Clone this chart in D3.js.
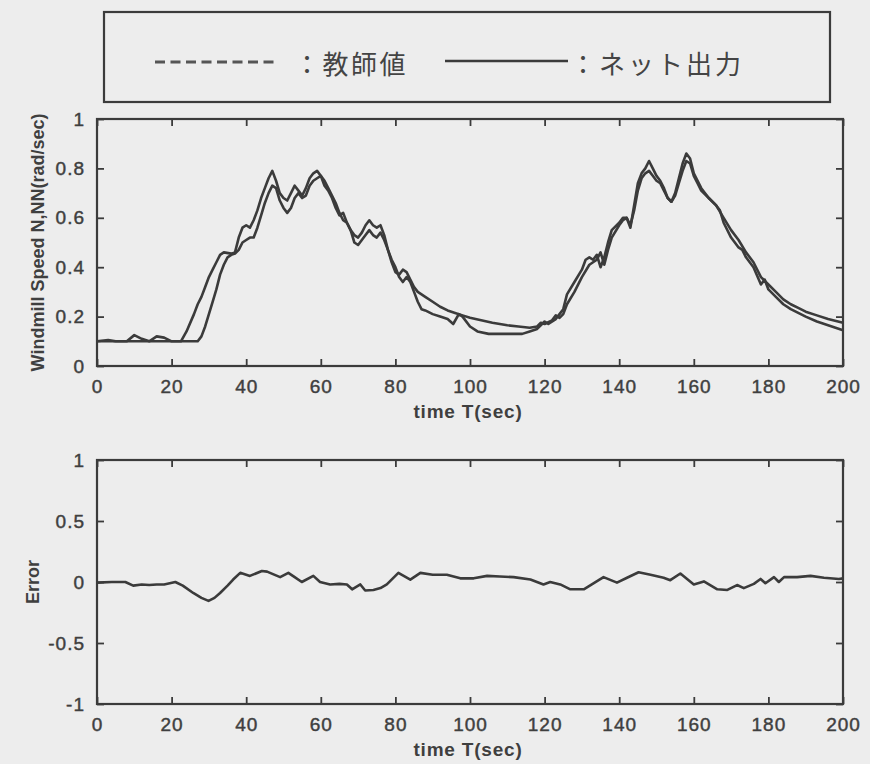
<!DOCTYPE html>
<html><head><meta charset="utf-8">
<script src="https://cdn.jsdelivr.net/npm/d3@7"></script>
<style>
html,body{margin:0;padding:0;background:#ededed;}
svg{display:block;}
</style></head>
<body>
<svg id="chart" width="870" height="764"></svg>
<script>
// ---------- data ----------
const xTicks = [0,20,40,60,80,100,120,140,160,180,200];
const speedTicks = [0,0.2,0.4,0.6,0.8,1];
const errorTicks = [-1,-0.5,0,0.5,1];
const legendLabels = ["：教師値", "：ネット出力"];
const xLabel = "time T(sec)";
const speedLabel = "Windmill Speed N,NN(rad/sec)";
const errorLabel = "Error";

// network output (earlier riser)
const netT = [0,3,5,8,10,12,14,16,18,20,22.5,24,26,27,28,29,30,31,32,33,34,36,37,38,39,40,41,42,43,44,45,46,47,48,49,50,51,52,53,54,55,56,57,58,59,60,61,62,63,64,65,66,67,68,69,70,71,72,73,74,75,76,77,78,79,80,81,82,83,84,85,86,87,88,90,92,94,95.5,97,98,100,102,105,110,114,116,118,120,121,123,124,125,126,128,130,131,132,133,134,135,136,137,138,140,141,142,143,144,145,146,147,148,149,150,151,152,153,154,155,156,157,158,159,160,162,164,166,167,168,170,172,173,174,176,178,179,180,182,184,186,188,190,193,196,200];
const netV = [0.10,0.105,0.10,0.10,0.125,0.11,0.10,0.12,0.115,0.10,0.10,0.14,0.21,0.25,0.28,0.32,0.36,0.39,0.42,0.45,0.46,0.455,0.46,0.52,0.56,0.57,0.56,0.59,0.63,0.68,0.72,0.76,0.79,0.75,0.70,0.68,0.67,0.70,0.73,0.71,0.69,0.72,0.76,0.78,0.79,0.77,0.73,0.71,0.68,0.64,0.61,0.62,0.58,0.55,0.53,0.52,0.54,0.57,0.59,0.57,0.56,0.57,0.53,0.47,0.43,0.40,0.36,0.34,0.36,0.34,0.30,0.26,0.23,0.225,0.21,0.20,0.19,0.17,0.21,0.20,0.16,0.14,0.13,0.13,0.13,0.14,0.15,0.18,0.17,0.19,0.21,0.23,0.29,0.34,0.39,0.43,0.44,0.43,0.45,0.40,0.44,0.50,0.55,0.58,0.60,0.60,0.56,0.65,0.74,0.78,0.80,0.83,0.80,0.77,0.75,0.72,0.68,0.665,0.70,0.76,0.82,0.86,0.84,0.78,0.72,0.68,0.65,0.63,0.58,0.52,0.48,0.47,0.44,0.40,0.33,0.35,0.31,0.28,0.25,0.23,0.215,0.20,0.18,0.165,0.145];

// teacher values (later riser)
const teachT = [0,27,28,29,30,31,32,33,34,35,36,37,38,39,40,41,42,43,44,45,46,47,48,49,50,51,52,53,54,55,56,57,58,59,60,61,62,63,64,65,66,67,68,69,70,71,72,73,74,75,76,77,78,79,80,81,82,83,84,85,86,88,90,92,94,96,98,100,103,106,110,113,116,118,119,120,122,123,124,125,126,128,130,132,133,134,135,136,137,138,140,141,142,143,144,145,146,147,148,149,150,151,152,153,154,155,156,157,158,159,160,161,162,164,166,168,170,172,174,176,178,180,182,184,186,188,190,193,196,200];
const teachV = [0.10,0.10,0.12,0.16,0.21,0.26,0.31,0.37,0.41,0.44,0.45,0.455,0.47,0.50,0.51,0.52,0.52,0.56,0.61,0.66,0.70,0.73,0.72,0.67,0.64,0.62,0.64,0.68,0.70,0.68,0.69,0.73,0.75,0.76,0.77,0.75,0.72,0.69,0.66,0.62,0.59,0.58,0.55,0.50,0.49,0.51,0.53,0.55,0.53,0.52,0.54,0.51,0.47,0.42,0.38,0.37,0.39,0.38,0.35,0.32,0.30,0.28,0.26,0.24,0.225,0.215,0.205,0.195,0.185,0.175,0.165,0.16,0.155,0.16,0.175,0.17,0.185,0.205,0.195,0.21,0.25,0.30,0.36,0.41,0.42,0.43,0.46,0.41,0.47,0.52,0.57,0.59,0.60,0.57,0.63,0.71,0.76,0.78,0.79,0.77,0.75,0.74,0.71,0.68,0.665,0.69,0.74,0.79,0.83,0.82,0.77,0.74,0.71,0.68,0.65,0.60,0.55,0.51,0.46,0.42,0.36,0.33,0.30,0.27,0.25,0.235,0.22,0.205,0.19,0.175];

// error
const errT = [0,4,7.6,9.7,12,14,16,18,21,23,25.8,28,29.9,31.5,33,35,36.5,38.4,41,44.2,45.6,47.5,49.1,51.3,53,54.9,58,59.8,62.5,65,67,68.4,70.6,71.9,74.1,76,77.7,80.8,84,86.7,90,93.8,97.4,101,104.6,108,111.7,116.2,119.7,121.5,124.2,126.9,130.5,133.2,135.8,139.4,142.1,145.2,148.4,151.9,153.7,156.4,160,162.7,166.3,169,171.6,173.4,176.1,177.9,179.2,181.5,182.8,184.2,187.7,191.3,194.9,198.9,200];
const errV = [-0.005,0.0,0.0,-0.03,-0.02,-0.025,-0.02,-0.02,0.0,-0.03,-0.09,-0.13,-0.155,-0.13,-0.09,-0.03,0.02,0.075,0.05,0.09,0.085,0.06,0.04,0.075,0.04,0.0,0.05,0.0,-0.02,-0.015,-0.02,-0.06,-0.02,-0.07,-0.065,-0.05,-0.02,0.075,0.02,0.075,0.06,0.06,0.03,0.03,0.05,0.045,0.04,0.02,-0.02,0.0,-0.02,-0.06,-0.06,-0.01,0.04,-0.005,0.035,0.08,0.06,0.035,0.015,0.07,-0.02,0.005,-0.06,-0.065,-0.025,-0.05,-0.015,0.025,-0.01,0.04,0.0,0.04,0.04,0.05,0.035,0.025,0.03];

// ---------- drawing ----------
const svg = d3.select("#chart");
const ink = "#3b3b3b";
const fontLatin = "'Liberation Sans', Arial, sans-serif";
const fontCJK = "'Noto Sans CJK JP', sans-serif";

const X0 = 97, X1 = 843;
const x = d3.scaleLinear().domain([0,200]).range([X0, X1]);

function panel(y, yTicks, yFmt, yTitle, titleX) {
  const [yb, yt] = y.range();
  const g = svg.append("g");
  const tickLen = 7;
  const axB = d3.axisBottom(x).tickValues(xTicks).tickSizeInner(-tickLen).tickSizeOuter(0).tickPadding(14).tickFormat(d3.format("d"));
  const axT = d3.axisTop(x).tickValues(xTicks).tickSizeInner(-tickLen).tickSizeOuter(0).tickFormat("");
  const axL = d3.axisLeft(y).tickValues(yTicks).tickSizeInner(-tickLen).tickSizeOuter(0).tickPadding(12).tickFormat(yFmt);
  const axR = d3.axisRight(y).tickValues(yTicks).tickSizeInner(-tickLen).tickSizeOuter(0).tickFormat("");
  const gb = g.append("g").attr("transform", `translate(0,${yb})`).call(axB);
  const gt = g.append("g").attr("transform", `translate(0,${yt})`).call(axT);
  const gl = g.append("g").attr("transform", `translate(${X0},0)`).call(axL);
  const gr = g.append("g").attr("transform", `translate(${X1},0)`).call(axR);
  [gb,gt,gl,gr].forEach(a => {
    a.select(".domain").remove();
    a.selectAll(".tick line").attr("stroke", ink).attr("stroke-width", 1.8);
    a.selectAll(".tick text").attr("fill", "#3f3f3f").attr("stroke", "#3f3f3f").attr("stroke-width", 0.45)
      .style("font-family", fontLatin).style("font-size", "19px").style("letter-spacing", "1px");
  });
  g.append("rect").attr("x", X0).attr("y", yt).attr("width", X1 - X0).attr("height", yb - yt)
    .attr("fill", "none").attr("stroke", ink).attr("stroke-width", 2.2);
  g.append("text").attr("x", (X0 + X1) / 2 - 2).attr("y", yb + 52)
    .attr("text-anchor", "middle").attr("fill", "#3f3f3f")
    .style("font-family", fontLatin).style("font-size", "19px").style("font-weight", "bold").style("letter-spacing", "0.8px")
    .text(xLabel);
  g.append("text").attr("transform", `translate(${titleX},${(yb + yt) / 2}) rotate(-90)`)
    .attr("text-anchor", "middle").attr("dominant-baseline", "central").attr("fill", "#3f3f3f")
    .style("font-family", fontLatin).style("font-size", "18px").style("font-weight", "bold")
    .text(yTitle);
  return g;
}

const plain = d => String(d);   // ASCII hyphen minus, no trailing zeros

// top panel
const yS = d3.scaleLinear().domain([0,1]).range([366, 119]);
panel(yS, speedTicks, plain, speedLabel, 38);

const lineS = (T, V) => d3.line().x((d,i) => x(T[i])).y(d => yS(d))(V);
svg.append("path").attr("d", lineS(teachT, teachV)).attr("fill","none").attr("stroke", ink)
  .attr("stroke-width", 2.6).attr("stroke-linejoin","round");
svg.append("path").attr("d", lineS(netT, netV)).attr("fill","none").attr("stroke", ink)
  .attr("stroke-width", 2.6).attr("stroke-linejoin","round");

// bottom panel
const yE = d3.scaleLinear().domain([-1,1]).range([704, 460]);
panel(yE, errorTicks, plain, errorLabel, 33);
svg.append("path").attr("d", d3.line().x((d,i) => x(errT[i])).y(d => yE(d))(errV))
  .attr("fill","none").attr("stroke", ink).attr("stroke-width", 2.6).attr("stroke-linejoin","round");

// legend
const lg = svg.append("g");
lg.append("rect").attr("x", 104).attr("y", 12).attr("width", 726).attr("height", 90)
  .attr("fill", "none").attr("stroke", ink).attr("stroke-width", 2.2);
lg.append("line").attr("x1", 155).attr("x2", 275).attr("y1", 62).attr("y2", 62)
  .attr("stroke", "#555").attr("stroke-width", 3).attr("stroke-dasharray", "10,5.5");
lg.append("line").attr("x1", 445).attr("x2", 568).attr("y1", 61).attr("y2", 61)
  .attr("stroke", ink).attr("stroke-width", 2.6);
lg.append("text").attr("x", 294).attr("y", 62).attr("dominant-baseline", "central")
  .attr("fill", "#444").style("font-family", fontCJK).style("font-size", "26px").style("letter-spacing", "2.5px")
  .text(legendLabels[0]);
lg.append("text").attr("x", 570).attr("y", 62).attr("dominant-baseline", "central")
  .attr("fill", "#444").style("font-family", fontCJK).style("font-size", "26px").style("letter-spacing", "3px")
  .text(legendLabels[1]);
</script>
</body></html>
